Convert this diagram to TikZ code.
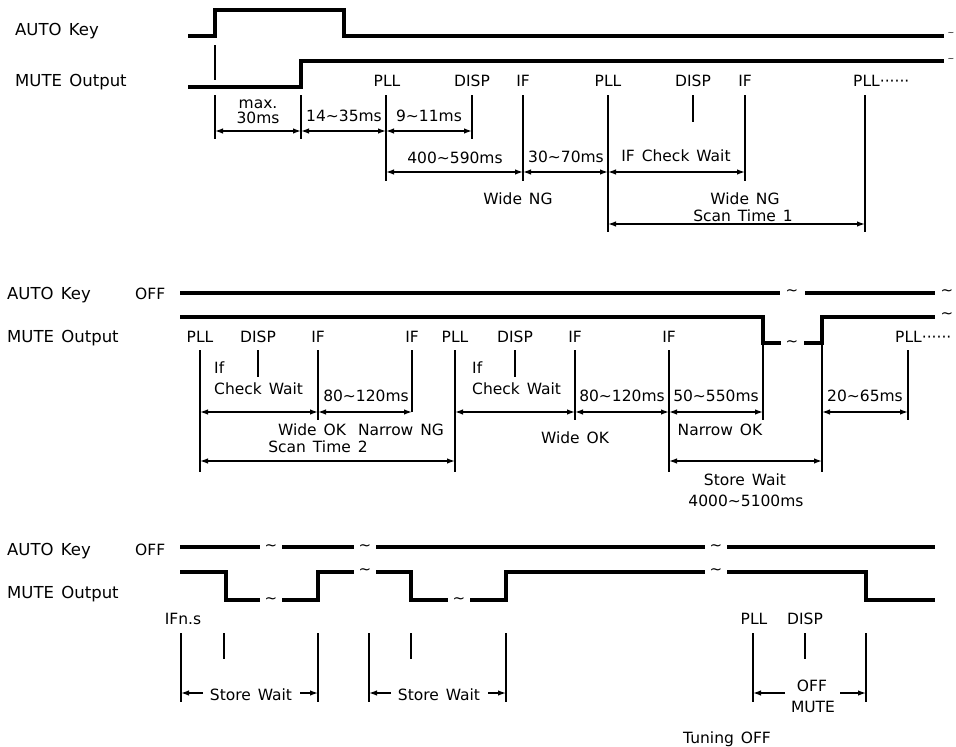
\documentclass[tikz,border=0pt]{standalone}
\usepackage{fontspec}
\setmainfont{DejaVu Sans}[WordSpace=1.4]
\usetikzlibrary{arrows.meta}
\newcommand\vtk[4]{\coordinate (#1t) at (#2,#3); \coordinate (#1b) at (#2,#4); \draw[tick] (#1t) -- (#1b);}
\begin{document}
\begin{tikzpicture}[x=1pt,y=-1pt,
 wave/.style={line width=3.8pt, line join=miter, line cap=butt},
 tick/.style={line width=1.6pt},
 dim/.style={line width=1.3pt, {Latex[length=8pt,width=5.5pt]}-{Latex[length=8pt,width=5.5pt]}},
 half/.style={line width=1.3pt, -{Latex[length=8pt,width=5.5pt]}},
 lbl/.style={font=\fontsize{15.5}{17}\selectfont, inner sep=0pt, anchor=base},
 lblw/.style={font=\fontsize{15.5}{17}\selectfont, inner sep=0pt, anchor=base west},
 side/.style={font=\fontsize{16.5}{18}\selectfont, inner sep=0pt, anchor=base west},
 brk/.style={font=\fontsize{15}{17}\selectfont, inner sep=0pt},
 brks/.style={font=\fontsize{8}{9}\selectfont, inner sep=0pt}]
\useasboundingbox (0,0) rectangle (956,747);

% ---------------- top section ----------------
\node[side] (t-auto) at (15,35) {AUTO Key};
\node[side] (t-mute) at (15,86) {MUTE Output};
\draw[wave] (188,36) -- (215,36) -- (215,10) -- (344,10) -- (344,36) -- (944,36);
\draw[wave] (188,87) -- (301,87) -- (301,61) -- (944,61);
\node[brks] (t-br1) at (951,34) {\textasciitilde};
\node[brks] (t-br2) at (951,60) {\textasciitilde};

\node[lbl] (t-pll1) at (387,86) {PLL};
\node[lbl] (t-disp1) at (472,86) {DISP};
\node[lbl] (t-if1) at (523,86) {IF};
\node[lbl] (t-pll2) at (608,86) {PLL};
\node[lbl] (t-disp2) at (693,86) {DISP};
\node[lbl] (t-if2) at (745,86) {IF};
\node[lblw] (t-pll3) at (853,86) {PLL······};

\vtk{k0}{215}{45}{80}
\vtk{v1}{215}{95}{139}
\vtk{v2}{301}{95}{139}
\vtk{v3}{386}{95}{181}
\vtk{v4}{472}{95}{139}
\vtk{v5}{523}{95}{181}
\vtk{v6}{608}{95}{232}
\vtk{v7}{693}{95}{122}
\vtk{v8}{745}{95}{181}
\vtk{v9}{865}{95}{232}

\coordinate (yA) at (0,131);
\coordinate (yB) at (0,172);
\coordinate (yC) at (0,224);
\draw[dim] (v1t |- yA) -- (v2t |- yA);
\draw[dim] (v2t |- yA) -- (v3t |- yA);
\draw[dim] (v3t |- yA) -- (v4t |- yA);
\draw[dim] (v3t |- yB) -- (v5t |- yB);
\draw[dim] (v5t |- yB) -- (v6t |- yB);
\draw[dim] (v6t |- yB) -- (v8t |- yB);
\draw[dim] (v6t |- yC) -- (v9t |- yC);

\node[lbl] (t-max) at (258,108) {max.};
\node[lbl] (t-30) at (258,123) {30ms};
\node[lbl] (t-1435) at (344,121) {14\textasciitilde35ms};
\node[lbl] (t-911) at (429,121) {9\textasciitilde11ms};
\node[lbl] (t-400) at (455,163) {400\textasciitilde590ms};
\node[lbl] (t-3070) at (566,162) {30\textasciitilde70ms};
\node[lbl] (t-ifcw) at (676,161) {IF Check Wait};
\node[lbl] (t-wng1) at (518,204) {Wide NG};
\node[lbl] (t-wng2) at (745,204) {Wide NG};
\node[lbl] (t-st1) at (743,221) {Scan Time 1};

% ---------------- middle section ----------------
\node[side] (m-auto) at (7,299) {AUTO Key};
\node[side] (m-mute) at (7,342) {MUTE Output};
\node[lblw] (m-off) at (135,299) {OFF};
\draw[wave] (180,293) -- (780,293);
\node[brk] (m-br1) at (792,293) {\textasciitilde};
\draw[wave] (805,293) -- (935,293);
\node[brk] (m-br2) at (947,293) {\textasciitilde};
\draw[wave] (180,317) -- (763,317) -- (763,343) -- (781,343);
\node[brk] (m-br3) at (792,344) {\textasciitilde};
\draw[wave] (804,343) -- (822,343) -- (822,317) -- (935,317);
\node[brk] (m-br4) at (947,316) {\textasciitilde};

\node[lbl] (m-pll1) at (200,342) {PLL};
\node[lbl] (m-disp1) at (258,342) {DISP};
\node[lbl] (m-if1) at (318,342) {IF};
\node[lbl] (m-if2) at (412,342) {IF};
\node[lbl] (m-pll2) at (455,342) {PLL};
\node[lbl] (m-disp2) at (515,342) {DISP};
\node[lbl] (m-if3) at (575,342) {IF};
\node[lbl] (m-if4) at (669,342) {IF};
\node[lblw] (m-pll3) at (895,342) {PLL······};

\vtk{m1}{200}{350}{472}
\vtk{m2}{258}{350}{377}
\vtk{m3}{318}{350}{420}
\vtk{m4}{412}{350}{412}
\vtk{m5}{455}{350}{472}
\vtk{m6}{515}{350}{377}
\vtk{m7}{575}{350}{420}
\vtk{m8}{669}{350}{472}
\vtk{m9}{763}{344}{420}
\vtk{m10}{822}{344}{472}
\vtk{m11}{908}{350}{420}

\coordinate (yD) at (0,412);
\coordinate (yE) at (0,461);
\draw[dim] (m1t |- yD) -- (m3t |- yD);
\draw[dim] (m3t |- yD) -- (m4t |- yD);
\draw[dim] (m5t |- yD) -- (m7t |- yD);
\draw[dim] (m7t |- yD) -- (m8t |- yD);
\draw[dim] (m8t |- yD) -- (m9t |- yD);
\draw[dim] (m10t |- yD) -- (m11t |- yD);
\draw[dim] (m1t |- yE) -- (m5t |- yE);
\draw[dim] (m8t |- yE) -- (m10t |- yE);

\node[lblw] (m-if-a) at (214,373) {If};
\node[lblw] (m-cw-a) at (214,394) {Check Wait};
\node[lbl] (m-80a) at (366,401) {80\textasciitilde120ms};
\node[lbl] (m-wonng) at (361,435) {Wide OK\hspace{12pt}Narrow NG};
\node[lbl] (m-st2) at (318,452) {Scan Time 2};
\node[lblw] (m-if-b) at (472,373) {If};
\node[lblw] (m-cw-b) at (472,394) {Check Wait};
\node[lbl] (m-80b) at (622,401) {80\textasciitilde120ms};
\node[lbl] (m-50) at (716,401) {50\textasciitilde550ms};
\node[lbl] (m-20) at (865,401) {20\textasciitilde65ms};
\node[lbl] (m-wok) at (575,443) {Wide OK};
\node[lbl] (m-nok) at (720,435) {Narrow OK};
\node[lbl] (m-sw) at (745,485) {Store Wait};
\node[lbl] (m-4000) at (746,506) {4000\textasciitilde5100ms};

% ---------------- bottom section ----------------
\node[side] (b-auto) at (7,555) {AUTO Key};
\node[side] (b-mute) at (7,598) {MUTE Output};
\node[lblw] (b-off) at (135,555) {OFF};
\draw[wave] (180,547) -- (260,547);
\node[brk] (b-br1) at (271,548) {\textasciitilde};
\draw[wave] (282,547) -- (354,547);
\node[brk] (b-br2) at (365,548) {\textasciitilde};
\draw[wave] (376,547) -- (705,547);
\node[brk] (b-br3) at (716,548) {\textasciitilde};
\draw[wave] (727,547) -- (935,547);

\draw[wave] (180,572) -- (226,572) -- (226,600) -- (260,600);
\node[brk] (b-br4) at (271,601) {\textasciitilde};
\draw[wave] (282,600) -- (318,600) -- (318,572) -- (354,572);
\node[brk] (b-br5) at (365,572) {\textasciitilde};
\draw[wave] (376,572) -- (411,572) -- (411,600) -- (448,600);
\node[brk] (b-br6) at (459,601) {\textasciitilde};
\draw[wave] (470,600) -- (506,600) -- (506,572) -- (705,572);
\node[brk] (b-br7) at (716,572) {\textasciitilde};
\draw[wave] (727,572) -- (866,572) -- (866,600) -- (935,600);

\node[lbl] (b-ifns) at (183,624) {IFn.s};
\node[lbl] (b-pll) at (754,624) {PLL};
\node[lbl] (b-disp) at (805,624) {DISP};

\vtk{b1}{181}{633}{702}
\vtk{b2}{224}{633}{659}
\vtk{b3}{318}{633}{702}
\vtk{b4}{369}{633}{702}
\vtk{b5}{411}{633}{659}
\vtk{b6}{506}{633}{702}
\vtk{b7}{753}{633}{702}
\vtk{b8}{805}{633}{659}
\vtk{b9}{866}{633}{702}

\node[lbl] (b-sw1) at (251,700) {Store Wait};
\node[lbl] (b-sw2) at (439,700) {Store Wait};
\node[lbl] (b-off2) at (812,691) {OFF};
\node[lbl] (b-mute2) at (813,712) {MUTE};
\node[lbl] (b-tun) at (727,743) {Tuning OFF};

\coordinate (yF) at (0,693);
\coordinate (s1l) at (203,693);
\coordinate (s1r) at (300,693);
\coordinate (s2l) at (391,693);
\coordinate (s2r) at (488,693);
\coordinate (s3l) at (785,693);
\coordinate (s3r) at (840,693);
\draw[half] (s1l) -- (b1t |- yF);
\draw[half] (s1r) -- (b3t |- yF);
\draw[half] (s2l) -- (b4t |- yF);
\draw[half] (s2r) -- (b6t |- yF);
\draw[half] (s3l) -- (b7t |- yF);
\draw[half] (s3r) -- (b9t |- yF);
\end{tikzpicture}
\end{document}
